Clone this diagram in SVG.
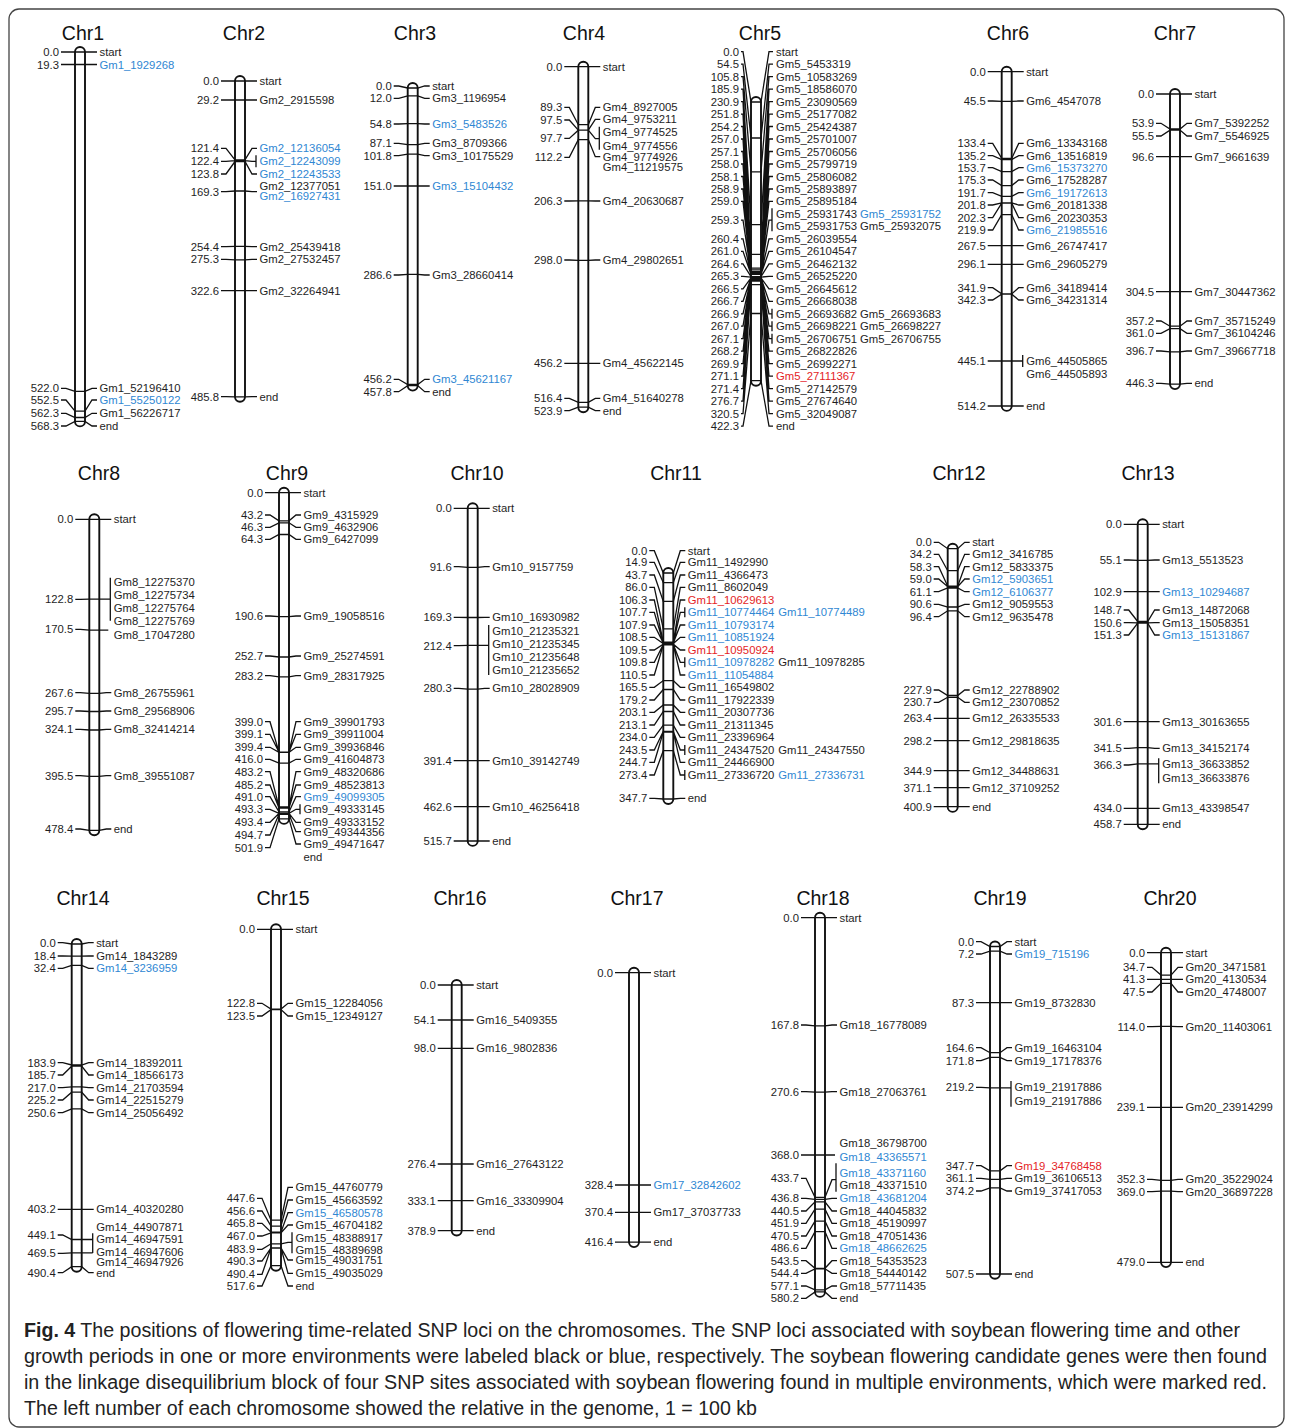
<svg xmlns="http://www.w3.org/2000/svg" width="1292" height="1428" viewBox="0 0 1292 1428">
<style>
.lt text,.rt text{font-family:"Liberation Sans",Arial,sans-serif;font-size:11.3px;fill:#1e1e1e;dominant-baseline:central}
.lt text{text-anchor:end}
.rt text.b{fill:#2f87d3}
.rt text.r{fill:#e41e26}
.ttl{font-family:"Liberation Sans",Arial,sans-serif;font-size:19.5px;text-anchor:middle;fill:#111}
.chr{fill:#fff;stroke:#111;stroke-width:1.9}
.c path{fill:none;stroke:#111;stroke-width:1.3}
.cap{font-family:"Liberation Sans Narrow","Liberation Sans",Arial,sans-serif;font-size:20px;fill:#222}
</style>
<rect width="1292" height="1428" fill="#fff"/>
<rect x="9" y="9" width="1275" height="1418" rx="10" fill="none" stroke="#444" stroke-width="1.3"/>

<g id="chr1"><text class="ttl" x="83" y="40">Chr1</text>
<g transform="translate(80,52)"><rect class="chr" x="-5" y="-5" width="10" height="379.4" rx="5"/>
<g class="lt"><text x="-21" y="0">0.0</text><text x="-21" y="12.5">19.3</text><text x="-21" y="336.3">522.0</text><text x="-21" y="348">552.5</text><text x="-21" y="361.3">562.3</text><text x="-21" y="374">568.3</text></g>
<g class="rt"><text x="19.5" y="0">start</text><text class="b" x="19.5" y="12.5">Gm1_1929268</text><text x="19.5" y="336.3">Gm1_52196410</text><text class="b" x="19.5" y="348">Gm1_55250122</text><text x="19.5" y="361.3">Gm1_56226717</text><text x="19.5" y="374">end</text></g>
</g></g>

<g id="chr2"><text class="ttl" x="244" y="40">Chr2</text>
<g transform="translate(240,81)"><rect class="chr" x="-5" y="-5" width="10" height="325.8" rx="5"/>
<g class="lt"><text x="-21" y="0">0.0</text><text x="-21" y="19">29.2</text><text x="-21" y="67.3">121.4</text><text x="-21" y="80.3">122.4</text><text x="-21" y="93">123.8</text><text x="-21" y="110.7">169.3</text><text x="-21" y="165.7">254.4</text><text x="-21" y="178.3">275.3</text><text x="-21" y="209.7">322.6</text><text x="-21" y="315.7">485.8</text></g>
<g class="rt"><text x="19.5" y="0">start</text><text x="19.5" y="19">Gm2_2915598</text><text class="b" x="19.5" y="67.3">Gm2_12136054</text><text class="b" x="19.5" y="80.3">Gm2_12243099</text><text class="b" x="19.5" y="93">Gm2_12243533</text><text x="19.5" y="104.7">Gm2_12377051</text><text class="b" x="19.5" y="114.7">Gm2_16927431</text><text x="19.5" y="165.7">Gm2_25439418</text><text x="19.5" y="178.3">Gm2_27532457</text><text x="19.5" y="209.7">Gm2_32264941</text><text x="19.5" y="315.7">end</text></g>
</g></g>

<g id="chr3"><text class="ttl" x="415" y="40">Chr3</text>
<g transform="translate(412.7,88)"><rect class="chr" x="-5" y="-5" width="10" height="307.6" rx="5"/>
<g class="lt"><text x="-21" y="-2">0.0</text><text x="-21" y="10.3">12.0</text><text x="-21" y="36">54.8</text><text x="-21" y="55.3">87.1</text><text x="-21" y="67.7">101.8</text><text x="-21" y="98">151.0</text><text x="-21" y="187">286.6</text><text x="-21" y="291.3">456.2</text><text x="-21" y="303.7">457.8</text></g>
<g class="rt"><text x="19.5" y="-2">start</text><text x="19.5" y="10.3">Gm3_1196954</text><text class="b" x="19.5" y="36">Gm3_5483526</text><text x="19.5" y="55.3">Gm3_8709366</text><text x="19.5" y="67.7">Gm3_10175529</text><text class="b" x="19.5" y="98">Gm3_15104432</text><text x="19.5" y="187">Gm3_28660414</text><text class="b" x="19.5" y="291.3">Gm3_45621167</text><text x="19.5" y="303.7">end</text></g>
</g></g>

<g id="chr4"><text class="ttl" x="584" y="40">Chr4</text>
<g transform="translate(583.3,66.7)"><rect class="chr" x="-5" y="-5" width="10" height="350.5" rx="5"/>
<g class="lt"><text x="-21" y="0">0.0</text><text x="-21" y="40.7">89.3</text><text x="-21" y="53.3">97.5</text><text x="-21" y="71.7">97.7</text><text x="-21" y="90.7">112.2</text><text x="-21" y="134.3">206.3</text><text x="-21" y="193.3">298.0</text><text x="-21" y="296.7">456.2</text><text x="-21" y="331.7">516.4</text><text x="-21" y="344">523.9</text></g>
<g class="rt"><text x="19.5" y="0">start</text><text x="19.5" y="40.7">Gm4_8927005</text><text x="19.5" y="52.7">Gm4_9753211</text><text x="19.5" y="65">Gm4_9774525</text><text x="19.5" y="79.3">Gm4_9774556</text><text x="19.5" y="90">Gm4_9774926</text><text x="19.5" y="100.7">Gm4_11219575</text><text x="19.5" y="134.3">Gm4_20630687</text><text x="19.5" y="193.3">Gm4_29802651</text><text x="19.5" y="296.7">Gm4_45622145</text><text x="19.5" y="331.7">Gm4_51640278</text><text x="19.5" y="344">end</text></g>
</g></g>

<g id="chr5"><text class="ttl" x="760" y="40">Chr5</text>
<g transform="translate(756,102)"><rect class="chr" x="-5" y="-5" width="10" height="288.7" rx="5"/>
<g class="lt"><text x="-17" y="-50.3">0.0</text><text x="-17" y="-37.9">54.5</text><text x="-17" y="-25.4">105.8</text><text x="-17" y="-12.9">185.9</text><text x="-17" y="-0.4">230.9</text><text x="-17" y="12.1">251.8</text><text x="-17" y="24.5">254.2</text><text x="-17" y="37">257.0</text><text x="-17" y="49.5">257.1</text><text x="-17" y="62">258.0</text><text x="-17" y="74.5">258.1</text><text x="-17" y="87">258.9</text><text x="-17" y="99.4">259.0</text><text x="-17" y="118.2">259.3</text><text x="-17" y="136.9">260.4</text><text x="-17" y="149.4">261.0</text><text x="-17" y="161.8">264.6</text><text x="-17" y="174.3">265.3</text><text x="-17" y="186.8">266.5</text><text x="-17" y="199.3">266.7</text><text x="-17" y="211.8">266.9</text><text x="-17" y="224.2">267.0</text><text x="-17" y="236.7">267.1</text><text x="-17" y="249.2">268.2</text><text x="-17" y="261.7">269.9</text><text x="-17" y="274.2">271.1</text><text x="-17" y="286.6">271.4</text><text x="-17" y="299.1">276.7</text><text x="-17" y="311.6">320.5</text><text x="-17" y="324.1">422.3</text></g>
<g class="rt"><text x="20" y="-50.3">start</text><text x="20" y="-37.9">Gm5_5453319</text><text x="20" y="-25.4">Gm5_10583269</text><text x="20" y="-12.9">Gm5_18586070</text><text x="20" y="-0.4">Gm5_23090569</text><text x="20" y="12.1">Gm5_25177082</text><text x="20" y="24.5">Gm5_25424387</text><text x="20" y="37">Gm5_25701007</text><text x="20" y="49.5">Gm5_25706056</text><text x="20" y="62">Gm5_25799719</text><text x="20" y="74.5">Gm5_25806082</text><text x="20" y="87">Gm5_25893897</text><text x="20" y="99.4">Gm5_25895184</text><text x="20" y="111.9">Gm5_25931743</text><text class="b" x="104" y="111.9">Gm5_25931752</text><text x="20" y="124.4">Gm5_25931753</text><text x="104" y="124.4">Gm5_25932075</text><text x="20" y="136.9">Gm5_26039554</text><text x="20" y="149.4">Gm5_26104547</text><text x="20" y="161.8">Gm5_26462132</text><text x="20" y="174.3">Gm5_26525220</text><text x="20" y="186.8">Gm5_26645612</text><text x="20" y="199.3">Gm5_26668038</text><text x="20" y="211.8">Gm5_26693682</text><text x="104" y="211.8">Gm5_26693683</text><text x="20" y="224.2">Gm5_26698221</text><text x="104" y="224.2">Gm5_26698227</text><text x="20" y="236.7">Gm5_26706751</text><text x="104" y="236.7">Gm5_26706755</text><text x="20" y="249.2">Gm5_26822826</text><text x="20" y="261.7">Gm5_26992271</text><text class="r" x="20" y="274.2">Gm5_27111367</text><text x="20" y="286.6">Gm5_27142579</text><text x="20" y="299.1">Gm5_27674640</text><text x="20" y="311.6">Gm5_32049087</text><text x="20" y="324.1">end</text></g>
</g></g>

<g id="chr6"><text class="ttl" x="1008" y="40">Chr6</text>
<g transform="translate(1006.7,71.7)"><rect class="chr" x="-5" y="-5" width="10" height="344.2" rx="5"/>
<g class="lt"><text x="-21" y="0">0.0</text><text x="-21" y="29.3">45.5</text><text x="-21" y="71.7">133.4</text><text x="-21" y="84">135.2</text><text x="-21" y="96">153.7</text><text x="-21" y="108.3">175.3</text><text x="-21" y="121">191.7</text><text x="-21" y="133.3">201.8</text><text x="-21" y="146">202.3</text><text x="-21" y="158.3">219.9</text><text x="-21" y="174">267.5</text><text x="-21" y="192.7">296.1</text><text x="-21" y="216">341.9</text><text x="-21" y="228.3">342.3</text><text x="-21" y="289.3">445.1</text><text x="-21" y="334.3">514.2</text></g>
<g class="rt"><text x="19.5" y="0">start</text><text x="19.5" y="29.3">Gm6_4547078</text><text x="19.5" y="71.7">Gm6_13343168</text><text x="19.5" y="84">Gm6_13516819</text><text class="b" x="19.5" y="96">Gm6_15373270</text><text x="19.5" y="108.3">Gm6_17528287</text><text class="b" x="19.5" y="121">Gm6_19172613</text><text x="19.5" y="133.3">Gm6_20181338</text><text x="19.5" y="146">Gm6_20230353</text><text class="b" x="19.5" y="158.3">Gm6_21985516</text><text x="19.5" y="174">Gm6_26747417</text><text x="19.5" y="192.7">Gm6_29605279</text><text x="19.5" y="216">Gm6_34189414</text><text x="19.5" y="228.3">Gm6_34231314</text><text x="19.5" y="289.3">Gm6_44505865</text><text x="19.5" y="302.3">Gm6_44505893</text><text x="19.5" y="334.3">end</text></g>
</g></g>

<g id="chr7"><text class="ttl" x="1175" y="40">Chr7</text>
<g transform="translate(1175,94)"><rect class="chr" x="-5" y="-5" width="10" height="300.1" rx="5"/>
<g class="lt"><text x="-21" y="0">0.0</text><text x="-21" y="29.3">53.9</text><text x="-21" y="42">55.5</text><text x="-21" y="62.7">96.6</text><text x="-21" y="197.7">304.5</text><text x="-21" y="227">357.2</text><text x="-21" y="239.3">361.0</text><text x="-21" y="257">396.7</text><text x="-21" y="289.3">446.3</text></g>
<g class="rt"><text x="19.5" y="0">start</text><text x="19.5" y="29.3">Gm7_5392252</text><text x="19.5" y="42">Gm7_5546925</text><text x="19.5" y="62.7">Gm7_9661639</text><text x="19.5" y="197.7">Gm7_30447362</text><text x="19.5" y="227">Gm7_35715249</text><text x="19.5" y="239.3">Gm7_36104246</text><text x="19.5" y="257">Gm7_39667718</text><text x="19.5" y="289.3">end</text></g>
</g></g>

<g id="chr8"><text class="ttl" x="99" y="480">Chr8</text>
<g transform="translate(94.3,519.3)"><rect class="chr" x="-5" y="-5" width="10" height="321" rx="5"/>
<g class="lt"><text x="-21" y="0">0.0</text><text x="-21" y="80">122.8</text><text x="-21" y="110">170.5</text><text x="-21" y="173.3">267.6</text><text x="-21" y="191.7">295.7</text><text x="-21" y="210">324.1</text><text x="-21" y="256.3">395.5</text><text x="-21" y="309.7">478.4</text></g>
<g class="rt"><text x="19.5" y="0">start</text><text x="19.5" y="63">Gm8_12275370</text><text x="19.5" y="75.7">Gm8_12275734</text><text x="19.5" y="89">Gm8_12275764</text><text x="19.5" y="101.4">Gm8_12275769</text><text x="19.5" y="115.7">Gm8_17047280</text><text x="19.5" y="173.3">Gm8_26755961</text><text x="19.5" y="191.7">Gm8_29568906</text><text x="19.5" y="210">Gm8_32414214</text><text x="19.5" y="256.3">Gm8_39551087</text><text x="19.5" y="309.7">end</text></g>
</g></g>

<g id="chr9"><text class="ttl" x="287" y="480">Chr9</text>
<g transform="translate(284,492.7)"><rect class="chr" x="-5" y="-5" width="10" height="336.2" rx="5"/>
<g class="lt"><text x="-21" y="0">0.0</text><text x="-21" y="22.3">43.2</text><text x="-21" y="34.6">46.3</text><text x="-21" y="46.6">64.3</text><text x="-21" y="123.3">190.6</text><text x="-21" y="163.3">252.7</text><text x="-21" y="183">283.2</text><text x="-21" y="229">399.0</text><text x="-21" y="241.6">399.1</text><text x="-21" y="254.6">399.4</text><text x="-21" y="266.6">416.0</text><text x="-21" y="279">483.2</text><text x="-21" y="292.3">485.2</text><text x="-21" y="304">491.0</text><text x="-21" y="316.6">493.3</text><text x="-21" y="329.6">493.4</text><text x="-21" y="342.3">494.7</text><text x="-21" y="355">501.9</text></g>
<g class="rt"><text x="19.5" y="0">start</text><text x="19.5" y="22.3">Gm9_4315929</text><text x="19.5" y="34.6">Gm9_4632906</text><text x="19.5" y="46.6">Gm9_6427099</text><text x="19.5" y="123.3">Gm9_19058516</text><text x="19.5" y="163.3">Gm9_25274591</text><text x="19.5" y="183">Gm9_28317925</text><text x="19.5" y="229">Gm9_39901793</text><text x="19.5" y="241.6">Gm9_39911004</text><text x="19.5" y="254.6">Gm9_39936846</text><text x="19.5" y="266.6">Gm9_41604873</text><text x="19.5" y="279">Gm9_48320686</text><text x="19.5" y="292.3">Gm9_48523813</text><text class="b" x="19.5" y="304">Gm9_49099305</text><text x="19.5" y="316.6">Gm9_49333145</text><text x="19.5" y="329.6">Gm9_49333152</text><text x="19.5" y="339">Gm9_49344356</text><text x="19.5" y="351.3">Gm9_49471647</text><text x="19.5" y="364">end</text></g>
</g></g>

<g id="chr10"><text class="ttl" x="477" y="480">Chr10</text>
<g transform="translate(472.7,508.3)"><rect class="chr" x="-5" y="-5" width="10" height="342.6" rx="5"/>
<g class="lt"><text x="-21" y="0">0.0</text><text x="-21" y="58.4">91.6</text><text x="-21" y="109">169.3</text><text x="-21" y="137.4">212.4</text><text x="-21" y="180">280.3</text><text x="-21" y="252.4">391.4</text><text x="-21" y="298.4">462.6</text><text x="-21" y="332.7">515.7</text></g>
<g class="rt"><text x="19.5" y="0">start</text><text x="19.5" y="58.4">Gm10_9157759</text><text x="19.5" y="109">Gm10_16930982</text><text x="19.5" y="122.4">Gm10_21235321</text><text x="19.5" y="136">Gm10_21235345</text><text x="19.5" y="148.4">Gm10_21235648</text><text x="19.5" y="161.7">Gm10_21235652</text><text x="19.5" y="180">Gm10_28028909</text><text x="19.5" y="252.4">Gm10_39142749</text><text x="19.5" y="298.4">Gm10_46256418</text><text x="19.5" y="332.7">end</text></g>
</g></g>

<g id="chr11"><text class="ttl" x="676" y="480">Chr11</text>
<g transform="translate(668.3,573)"><rect class="chr" x="-5" y="-5" width="10" height="236" rx="5"/>
<g class="lt"><text x="-21" y="-22.3">0.0</text><text x="-21" y="-10.7">14.9</text><text x="-21" y="2">43.7</text><text x="-21" y="14.3">86.0</text><text x="-21" y="27">106.3</text><text x="-21" y="39.3">107.7</text><text x="-21" y="52">107.9</text><text x="-21" y="64.3">108.5</text><text x="-21" y="77">109.5</text><text x="-21" y="89.3">109.8</text><text x="-21" y="102">110.5</text><text x="-21" y="114.3">165.5</text><text x="-21" y="127">179.2</text><text x="-21" y="139.3">203.1</text><text x="-21" y="152">213.1</text><text x="-21" y="164.3">234.0</text><text x="-21" y="177">243.5</text><text x="-21" y="189.3">244.7</text><text x="-21" y="202">273.4</text><text x="-21" y="225.3">347.7</text></g>
<g class="rt"><text x="19.5" y="-22.3">start</text><text x="19.5" y="-10.7">Gm11_1492990</text><text x="19.5" y="2">Gm11_4366473</text><text x="19.5" y="14.3">Gm11_8602049</text><text class="r" x="19.5" y="27">Gm11_10629613</text><text class="b" x="19.5" y="39.3">Gm11_10774464</text><text class="b" x="110" y="39.3">Gm11_10774489</text><text class="b" x="19.5" y="52">Gm11_10793174</text><text class="b" x="19.5" y="64.3">Gm11_10851924</text><text class="r" x="19.5" y="77">Gm11_10950924</text><text class="b" x="19.5" y="89.3">Gm11_10978282</text><text x="110" y="89.3">Gm11_10978285</text><text class="b" x="19.5" y="102">Gm11_11054884</text><text x="19.5" y="114.3">Gm11_16549802</text><text x="19.5" y="127">Gm11_17922339</text><text x="19.5" y="139.3">Gm11_20307736</text><text x="19.5" y="152">Gm11_21311345</text><text x="19.5" y="164.3">Gm11_23396964</text><text x="19.5" y="177">Gm11_24347520</text><text x="110" y="177">Gm11_24347550</text><text x="19.5" y="189.3">Gm11_24466900</text><text x="19.5" y="202">Gm11_27336720</text><text class="b" x="110" y="202">Gm11_27336731</text><text x="19.5" y="225.3">end</text></g>
</g></g>

<g id="chr12"><text class="ttl" x="959" y="480">Chr12</text>
<g transform="translate(952.7,548.7)"><rect class="chr" x="-5" y="-5" width="10" height="268.2" rx="5"/>
<g class="lt"><text x="-21" y="-6.4">0.0</text><text x="-21" y="5.6">34.2</text><text x="-21" y="18">58.3</text><text x="-21" y="30.3">59.0</text><text x="-21" y="43">61.1</text><text x="-21" y="55.6">90.6</text><text x="-21" y="68">96.4</text><text x="-21" y="141.3">227.9</text><text x="-21" y="153.6">230.7</text><text x="-21" y="169.6">263.4</text><text x="-21" y="192">298.2</text><text x="-21" y="222">344.9</text><text x="-21" y="239">371.1</text><text x="-21" y="258">400.9</text></g>
<g class="rt"><text x="19.5" y="-6.4">start</text><text x="19.5" y="5.6">Gm12_3416785</text><text x="19.5" y="18">Gm12_5833375</text><text class="b" x="19.5" y="30.3">Gm12_5903651</text><text class="b" x="19.5" y="43">Gm12_6106377</text><text x="19.5" y="55.6">Gm12_9059553</text><text x="19.5" y="68">Gm12_9635478</text><text x="19.5" y="141.3">Gm12_22788902</text><text x="19.5" y="153.6">Gm12_23070852</text><text x="19.5" y="169.6">Gm12_26335533</text><text x="19.5" y="192">Gm12_29818635</text><text x="19.5" y="222">Gm12_34488631</text><text x="19.5" y="239">Gm12_37109252</text><text x="19.5" y="258">end</text></g>
</g></g>

<g id="chr13"><text class="ttl" x="1148" y="480">Chr13</text>
<g transform="translate(1142.7,524.3)"><rect class="chr" x="-5" y="-5" width="10" height="310" rx="5"/>
<g class="lt"><text x="-21" y="0">0.0</text><text x="-21" y="35.7">55.1</text><text x="-21" y="67.4">102.9</text><text x="-21" y="85.7">148.7</text><text x="-21" y="98.4">150.6</text><text x="-21" y="110.7">151.3</text><text x="-21" y="197.4">301.6</text><text x="-21" y="224">341.5</text><text x="-21" y="240.7">366.3</text><text x="-21" y="284">434.0</text><text x="-21" y="300">458.7</text></g>
<g class="rt"><text x="19.5" y="0">start</text><text x="19.5" y="35.7">Gm13_5513523</text><text class="b" x="19.5" y="67.4">Gm13_10294687</text><text x="19.5" y="85.7">Gm13_14872068</text><text x="19.5" y="98.4">Gm13_15058351</text><text class="b" x="19.5" y="110.7">Gm13_15131867</text><text x="19.5" y="197.4">Gm13_30163655</text><text x="19.5" y="224">Gm13_34152174</text><text x="19.5" y="239.7">Gm13_36633852</text><text x="19.5" y="253.4">Gm13_36633876</text><text x="19.5" y="284">Gm13_43398547</text><text x="19.5" y="300">end</text></g>
</g></g>

<g id="chr14"><text class="ttl" x="83" y="905">Chr14</text>
<g transform="translate(76.7,944)"><rect class="chr" x="-5" y="-5" width="10" height="332.7" rx="5"/>
<g class="lt"><text x="-21" y="-1.3">0.0</text><text x="-21" y="12">18.4</text><text x="-21" y="24.3">32.4</text><text x="-21" y="118.7">183.9</text><text x="-21" y="131">185.7</text><text x="-21" y="143.7">217.0</text><text x="-21" y="156">225.2</text><text x="-21" y="168.7">250.6</text><text x="-21" y="265.3">403.2</text><text x="-21" y="291">449.1</text><text x="-21" y="309.3">469.5</text><text x="-21" y="328.7">490.4</text></g>
<g class="rt"><text x="19.5" y="-1.3">start</text><text x="19.5" y="12">Gm14_1843289</text><text class="b" x="19.5" y="24.3">Gm14_3236959</text><text x="19.5" y="118.7">Gm14_18392011</text><text x="19.5" y="131">Gm14_18566173</text><text x="19.5" y="143.7">Gm14_21703594</text><text x="19.5" y="156">Gm14_22515279</text><text x="19.5" y="168.7">Gm14_25056492</text><text x="19.5" y="265.3">Gm14_40320280</text><text x="19.5" y="282.7">Gm14_44907871</text><text x="19.5" y="295.3">Gm14_46947591</text><text x="19.5" y="307.7">Gm14_46947606</text><text x="19.5" y="317.7">Gm14_46947926</text><text x="19.5" y="328.7">end</text></g>
</g></g>

<g id="chr15"><text class="ttl" x="283" y="905">Chr15</text>
<g transform="translate(276,929.3)"><rect class="chr" x="-5" y="-5" width="10" height="346.4" rx="5"/>
<g class="lt"><text x="-21" y="0">0.0</text><text x="-21" y="74">122.8</text><text x="-21" y="86.7">123.5</text><text x="-21" y="269">447.6</text><text x="-21" y="281.7">456.6</text><text x="-21" y="294">465.8</text><text x="-21" y="306.7">467.0</text><text x="-21" y="320">483.9</text><text x="-21" y="331.7">490.3</text><text x="-21" y="345">490.4</text><text x="-21" y="356.7">517.6</text></g>
<g class="rt"><text x="19.5" y="0">start</text><text x="19.5" y="74">Gm15_12284056</text><text x="19.5" y="86.7">Gm15_12349127</text><text x="19.5" y="258">Gm15_44760779</text><text x="19.5" y="270.7">Gm15_45663592</text><text class="b" x="19.5" y="283.4">Gm15_46580578</text><text x="19.5" y="295.7">Gm15_46704182</text><text x="19.5" y="309">Gm15_48388917</text><text x="19.5" y="320.7">Gm15_48389698</text><text x="19.5" y="330.7">Gm15_49031751</text><text x="19.5" y="344">Gm15_49035029</text><text x="19.5" y="356.7">end</text></g>
</g></g>

<g id="chr16"><text class="ttl" x="460" y="905">Chr16</text>
<g transform="translate(456.7,985)"><rect class="chr" x="-5" y="-5" width="10" height="255.5" rx="5"/>
<g class="lt"><text x="-21" y="0">0.0</text><text x="-21" y="35">54.1</text><text x="-21" y="63.3">98.0</text><text x="-21" y="179">276.4</text><text x="-21" y="215.7">333.1</text><text x="-21" y="245.7">378.9</text></g>
<g class="rt"><text x="19.5" y="0">start</text><text x="19.5" y="35">Gm16_5409355</text><text x="19.5" y="63.3">Gm16_9802836</text><text x="19.5" y="179">Gm16_27643122</text><text x="19.5" y="215.7">Gm16_33309904</text><text x="19.5" y="245.7">end</text></g>
</g></g>

<g id="chr17"><text class="ttl" x="637" y="905">Chr17</text>
<g transform="translate(634,972.7)"><rect class="chr" x="-5" y="-5" width="10" height="279.4" rx="5"/>
<g class="lt"><text x="-21" y="0">0.0</text><text x="-21" y="212.3">328.4</text><text x="-21" y="239.6">370.4</text><text x="-21" y="269.5">416.4</text></g>
<g class="rt"><text x="19.5" y="0">start</text><text class="b" x="19.5" y="212.3">Gm17_32842602</text><text x="19.5" y="239.6">Gm17_37037733</text><text x="19.5" y="269.5">end</text></g>
</g></g>

<g id="chr18"><text class="ttl" x="823" y="905">Chr18</text>
<g transform="translate(820,917.7)"><rect class="chr" x="-5" y="-5" width="10" height="384.2" rx="5"/>
<g class="lt"><text x="-21" y="0">0.0</text><text x="-21" y="107.3">167.8</text><text x="-21" y="174">270.6</text><text x="-21" y="237.3">368.0</text><text x="-21" y="260.6">433.7</text><text x="-21" y="280.6">436.8</text><text x="-21" y="293.3">440.5</text><text x="-21" y="305.6">451.9</text><text x="-21" y="318.3">470.5</text><text x="-21" y="330.6">486.6</text><text x="-21" y="343">543.5</text><text x="-21" y="355.6">544.4</text><text x="-21" y="368.3">577.1</text><text x="-21" y="380.6">580.2</text></g>
<g class="rt"><text x="19.5" y="0">start</text><text x="19.5" y="107.3">Gm18_16778089</text><text x="19.5" y="174">Gm18_27063761</text><text x="19.5" y="225.6">Gm18_36798700</text><text class="b" x="19.5" y="239.6">Gm18_43365571</text><text class="b" x="19.5" y="255.6">Gm18_43371160</text><text x="19.5" y="267.3">Gm18_43371510</text><text class="b" x="19.5" y="280.6">Gm18_43681204</text><text x="19.5" y="293.3">Gm18_44045832</text><text x="19.5" y="305.6">Gm18_45190997</text><text x="19.5" y="318.3">Gm18_47051436</text><text class="b" x="19.5" y="330.6">Gm18_48662625</text><text x="19.5" y="343">Gm18_54353523</text><text x="19.5" y="355.6">Gm18_54440142</text><text x="19.5" y="368.3">Gm18_57711435</text><text x="19.5" y="380.6">end</text></g>
</g></g>

<g id="chr19"><text class="ttl" x="1000" y="905">Chr19</text>
<g transform="translate(995,946.5)"><rect class="chr" x="-5" y="-5" width="10" height="337.3" rx="5"/>
<g class="lt"><text x="-21" y="-4.8">0.0</text><text x="-21" y="7.5">7.2</text><text x="-21" y="56.2">87.3</text><text x="-21" y="101.2">164.6</text><text x="-21" y="114.2">171.8</text><text x="-21" y="140.8">219.2</text><text x="-21" y="219.2">347.7</text><text x="-21" y="231.8">361.1</text><text x="-21" y="244.5">374.2</text><text x="-21" y="327.5">507.5</text></g>
<g class="rt"><text x="19.5" y="-4.8">start</text><text class="b" x="19.5" y="7.5">Gm19_715196</text><text x="19.5" y="56.2">Gm19_8732830</text><text x="19.5" y="101.2">Gm19_16463104</text><text x="19.5" y="114.2">Gm19_17178376</text><text x="19.5" y="140.8">Gm19_21917886</text><text x="19.5" y="154.2">Gm19_21917886</text><text class="r" x="19.5" y="219.2">Gm19_34768458</text><text x="19.5" y="231.8">Gm19_36106513</text><text x="19.5" y="244.5">Gm19_37417053</text><text x="19.5" y="327.5">end</text></g>
</g></g>

<g id="chr20"><text class="ttl" x="1170" y="905">Chr20</text>
<g transform="translate(1166,952.7)"><rect class="chr" x="-5" y="-5" width="10" height="319.4" rx="5"/>
<g class="lt"><text x="-21" y="0">0.0</text><text x="-21" y="14.6">34.7</text><text x="-21" y="26.6">41.3</text><text x="-21" y="39.3">47.5</text><text x="-21" y="74">114.0</text><text x="-21" y="154.6">239.1</text><text x="-21" y="226.6">352.3</text><text x="-21" y="239">369.0</text><text x="-21" y="309.6">479.0</text></g>
<g class="rt"><text x="19.5" y="0">start</text><text x="19.5" y="14.6">Gm20_3471581</text><text x="19.5" y="26.6">Gm20_4130534</text><text x="19.5" y="39.3">Gm20_4748007</text><text x="19.5" y="74">Gm20_11403061</text><text x="19.5" y="154.6">Gm20_23914299</text><text x="19.5" y="226.6">Gm20_35229024</text><text x="19.5" y="239">Gm20_36897228</text><text x="19.5" y="309.6">end</text></g>
</g></g>

<g id="connectors" class="c">
<path transform="translate(80,52)" d="M-19 0H17M-19 12.5H17M-19 336.3H-14L-5 339.3H5L12 336.3H17M-19 348H-14L-5 359.1H5L12 348H17M-19 361.3H-14L-5 365.5H5L12 361.3H17M-19 374H-14L-5 369.4H5L12 374H17"/>
<path transform="translate(240,81)" d="M-19 0H17M-19 19H17M-19 67.3H-14L-5 78.9H5L12 67.3H17M-19 80.3H-14L-5 79.6H5L12 80.3H16M16 74.3V86.3M-19 93H-14L-5 80.5H5L12 93H17M-19 110.7H-14L-5 110H5L12 110.7H17M-19 165.7H-14L-5 165.4H5L12 165.7H17M-19 178.3H-14L-5 178.9H5L12 178.3H17M-19 209.7H17M-19 315.7H-14L-5 315.8H5L12 315.7H17"/>
<path transform="translate(412.7,88)" d="M-19 -2H-14L-5 0H5L12 -2H17M-19 10.3H-14L-5 7.8H5L12 10.3H17M-19 36H-14L-5 35.6H5L12 36H17M-19 55.3H-14L-5 56.6H5L12 55.3H17M-19 67.7H-14L-5 66.2H5L12 67.7H17M-19 98H17M-19 187H-14L-5 186.3H5L12 187H17M-19 291.3H-14L-5 296.5H5L12 291.3H17M-19 303.7H-14L-5 297.6H5L12 303.7H17"/>
<path transform="translate(583.3,66.7)" d="M-19 0H17M-19 40.7H-14L-5 58H5L12 40.7H17M-19 53.3H-14L-5 63.4H5L12 52.7H17M-19 71.7H-14L-5 63.5H5L12 72H16M16 60V83M-19 90.7H-14L-5 72.9H5L12 90H17M-19 134.3H-14L-5 134.1H5L12 134.3H17M-19 193.3H-14L-5 193.7H5L12 193.3H17M-19 296.7H17M-19 331.7H-14L-5 335.7H5L12 331.7H17M-19 344H-14L-5 340.5H5L12 344H17"/>
<path transform="translate(756,102)" d="M-15 -50.3H-13L-5 0H5L13 -50.3H17M-15 -37.9H-13L-5 36H5L13 -37.9H17M-15 -25.4H-13L-5 69.8H5L13 -25.4H17M-15 -12.9H-13L-5 122.7H5L13 -12.9H17M-15 -0.4H-13L-5 152.4H5L13 -0.4H17M-15 12.1H-13L-5 166.2H5L13 12.1H17M-15 24.5H-13L-5 167.8H5L13 24.5H17M-15 37H-13L-5 169.6H5L13 37H17M-15 49.5H-13L-5 169.7H5L13 49.5H17M-15 62H-13L-5 170.3H5L13 62H17M-15 74.5H-13L-5 170.3H5L13 74.5H17M-15 87H-13L-5 170.9H5L13 87H17M-15 99.4H-13L-5 170.9H5L13 99.4H17M-15 118.2H-13L-5 171.1H5L13 118.2H16M16 106.3V129.3M-15 136.9H-13L-5 171.9H5L13 136.9H17M-15 149.4H-13L-5 172.3H5L13 149.4H17M-15 161.8H-13L-5 174.6H5L13 161.8H17M-15 174.3H-13L-5 175.1H5L13 174.3H17M-15 186.8H-13L-5 175.9H5L13 186.8H17M-15 199.3H-13L-5 176H5L13 199.3H17M-15 211.8H-13L-5 176.2H5L13 211.8H16M16 206.8V216.8M-15 224.2H-13L-5 176.2H5L13 224.2H16M16 219.2V229.2M-15 236.7H-13L-5 176.3H5L13 236.7H16M16 231.7V241.7M-15 249.2H-13L-5 177H5L13 249.2H17M-15 261.7H-13L-5 178.1H5L13 261.7H17M-15 274.2H-13L-5 178.9H5L13 274.2H17M-15 286.6H-13L-5 179.1H5L13 286.6H17M-15 299.1H-13L-5 182.6H5L13 299.1H17M-15 311.6H-13L-5 211.5H5L13 311.6H17M-15 324.1H-13L-5 278.7H5L13 324.1H17"/>
<path transform="translate(1006.7,71.7)" d="M-19 0H17M-19 29.3H-14L-5 29.6H5L12 29.3H17M-19 71.7H-14L-5 86.7H5L12 71.7H17M-19 84H-14L-5 87.9H5L12 84H17M-19 96H-14L-5 99.9H5L12 96H17M-19 108.3H-14L-5 113.9H5L12 108.3H17M-19 121H-14L-5 124.6H5L12 121H17M-19 133.3H-14L-5 131.2H5L12 133.3H17M-19 146H-14L-5 131.5H5L12 146H17M-19 158.3H-14L-5 142.9H5L12 158.3H17M-19 174H17M-19 192.7H17M-19 216H-14L-5 222.2H5L12 216H17M-19 228.3H-14L-5 222.5H5L12 228.3H17M-19 289.3H16M16 283.3V295.3M-19 334.3H17"/>
<path transform="translate(1175,94)" d="M-19 0H17M-19 29.3H-14L-5 35H5L12 29.3H17M-19 42H-14L-5 36.1H5L12 42H17M-19 62.7H17M-19 197.7H17M-19 227H-14L-5 232.2H5L12 227H17M-19 239.3H-14L-5 234.7H5L12 239.3H17M-19 257H-14L-5 257.9H5L12 257H17M-19 289.3H-14L-5 290.1H5L12 289.3H17"/>
<path transform="translate(94.3,519.3)" d="M-19 0H17M-19 80H-14L-5 79.8H16M16 58.4V101.4M-19 110H-14L-5 110.8H14M-19 173.3H-14L-5 174H5L12 173.3H17M-19 191.7H-14L-5 192.2H5L12 191.7H17M-19 210H-14L-5 210.7H5L12 210H17M-19 256.3H-14L-5 257.1H5L12 256.3H17M-19 309.7H-14L-5 311H5L12 309.7H17"/>
<path transform="translate(284,492.7)" d="M-19 0H17M-19 22.3H-14L-5 28.1H5L12 22.3H17M-19 34.6H-14L-5 30.1H5L12 34.6H17M-19 46.6H-14L-5 41.8H5L12 46.6H17M-19 123.3H-14L-5 123.9H5L12 123.3H17M-19 163.3H-14L-5 164.3H5L12 163.3H17M-19 183H-14L-5 184.1H5L12 183H17M-19 229H-14L-5 259.4H5L12 229H17M-19 241.6H-14L-5 259.4H5L12 241.6H17M-19 254.6H-14L-5 259.6H5L12 254.6H17M-19 266.6H-14L-5 270.4H5L12 266.6H17M-19 279H-14L-5 314.1H5L12 279H17M-19 292.3H-14L-5 315.4H5L12 292.3H17M-19 304H-14L-5 319.2H5L12 304H17M-19 316.6H-14L-5 320.6H5L12 316.6H16M16 311.6V321.6M-19 329.6H-14L-5 320.7H5L12 329.6H17M-19 342.3H-14L-5 321.6H5L12 339H17M-19 355H-14L-5 326.2H5L12 351.3H17"/>
<path transform="translate(472.7,508.3)" d="M-19 0H17M-19 58.4H-14L-5 59.1H5L12 58.4H17M-19 109H-14L-5 109.2H5L12 109H17M-19 137.4H-14L-5 137H16M16 116.7V166.7M-19 180H-14L-5 180.8H5L12 180H17M-19 252.4H17M-19 298.4H17M-19 332.7H17"/>
<path transform="translate(668.3,573)" d="M-19 -22.3H-14L-5 0H5L12 -22.3H17M-19 -10.7H-14L-5 9.7H5L12 -10.7H17M-19 2H-14L-5 28.4H5L12 2H17M-19 14.3H-14L-5 55.9H5L12 14.3H17M-19 27H-14L-5 69.1H5L12 27H17M-19 39.3H-14L-5 70H5L12 39.3H16.5M16.5 34.3V44.3M-19 52H-14L-5 70.1H5L12 52H17M-19 64.3H-14L-5 70.5H5L12 64.3H17M-19 77H-14L-5 71.2H5L12 77H17M-19 89.3H-14L-5 71.4H5L12 89.3H16.5M16.5 84.3V94.3M-19 102H-14L-5 71.8H5L12 102H17M-19 114.3H-14L-5 107.6H5L12 114.3H17M-19 127H-14L-5 116.5H5L12 127H17M-19 139.3H-14L-5 132H5L12 139.3H17M-19 152H-14L-5 138.5H5L12 152H17M-19 164.3H-14L-5 152.1H5L12 164.3H17M-19 177H-14L-5 158.3H5L12 177H16.5M16.5 172V182M-19 189.3H-14L-5 159.1H5L12 189.3H17M-19 202H-14L-5 177.7H5L12 202H16.5M16.5 197V207M-19 225.3H-14L-5 226H5L12 225.3H17"/>
<path transform="translate(952.7,548.7)" d="M-19 -6.4H-14L-5 0H5L12 -6.4H17M-19 5.6H-14L-5 22H5L12 5.6H17M-19 18H-14L-5 37.5H5L12 18H17M-19 30.3H-14L-5 38H5L12 30.3H17M-19 43H-14L-5 39.3H5L12 43H17M-19 55.6H-14L-5 58.3H5L12 55.6H17M-19 68H-14L-5 62.1H5L12 68H17M-19 141.3H-14L-5 146.8H5L12 141.3H17M-19 153.6H-14L-5 148.6H5L12 153.6H17M-19 169.6H17M-19 192H17M-19 222H17M-19 239H17M-19 258H17"/>
<path transform="translate(1142.7,524.3)" d="M-19 0H17M-19 35.7H-14L-5 36H5L12 35.7H17M-19 67.4H17M-19 85.7H-14L-5 97.2H5L12 85.7H17M-19 98.4H-14L-5 98.5H5L12 98.4H17M-19 110.7H-14L-5 98.9H5L12 110.7H17M-19 197.4H17M-19 224H-14L-5 223.3H5L12 224H17M-19 240.7H-14L-5 239.6H16M16 234V259M-19 284H17M-19 300H17"/>
<path transform="translate(76.7,944)" d="M-19 -1.3H-14L-5 0H5L12 -1.3H17M-19 12H-14L-5 12.1H5L12 12H17M-19 24.3H-14L-5 21.3H5L12 24.3H17M-19 118.7H-14L-5 121H5L12 118.7H17M-19 131H-14L-5 122.2H5L12 131H17M-19 143.7H-14L-5 142.8H5L12 143.7H17M-19 156H-14L-5 148.2H5L12 156H17M-19 168.7H-14L-5 164.9H5L12 168.7H17M-19 265.3H17M-19 291H-14L-5 295.5H16M-19 309.3H-14L-5 308.9H16M16 289.3V309M-19 328.7H-14L-5 322.7H5L12 328.7H17"/>
<path transform="translate(276,929.3)" d="M-19 0H17M-19 74H-14L-5 79.8H5L12 74H17M-19 86.7H-14L-5 80.3H5L12 86.7H17M-19 269H-14L-5 290.9H5L12 258H17M-19 281.7H-14L-5 296.8H5L12 270.7H17M-19 294H-14L-5 302.8H5L12 283.4H17M-19 306.7H-14L-5 303.6H5L12 295.7H17M-19 320H-14L-5 314.5H5L12 313H16M16 303V324M-19 331.7H-14L-5 318.7H5L12 330.7H17M-19 345H-14L-5 318.8H5L12 344H17M-19 356.7H-14L-5 336.4H5L12 356.7H17"/>
<path transform="translate(456.7,985)" d="M-19 0H17M-19 35H17M-19 63.3H17M-19 179H17M-19 215.7H17M-19 245.7H17"/>
<path transform="translate(634,972.7)" d="M-19 0H17M-19 212.3H17M-19 239.6H17M-19 269.5H17"/>
<path transform="translate(820,917.7)" d="M-19 0H17M-19 107.3H-14L-5 108.2H5L12 107.3H17M-19 174H-14L-5 174.5H5L12 174H17M-19 237.3H15M-19 260.6H-14L-5 279.7H5L12 262H16M16 245.6V274M-19 280.6H-14L-5 281.7H5L12 280.6H17M-19 293.3H-14L-5 284.1H5L12 293.3H17M-19 305.6H-14L-5 291.5H5L12 305.6H17M-19 318.3H-14L-5 303.5H5L12 318.3H17M-19 330.6H-14L-5 313.9H5L12 330.6H17M-19 343H-14L-5 350.6H5L12 343H17M-19 355.6H-14L-5 351.1H5L12 355.6H17M-19 368.3H-14L-5 372.2H5L12 368.3H17M-19 380.6H-14L-5 374.2H5L12 380.6H17"/>
<path transform="translate(995,946.5)" d="M-19 -4.8H-14L-5 0H5L12 -4.8H17M-19 7.5H-14L-5 4.6H5L12 7.5H17M-19 56.2H17M-19 101.2H-14L-5 106.2H5L12 101.2H17M-19 114.2H-14L-5 110.8H5L12 114.2H17M-19 140.8H-14L-5 141.4H16M16 134.5V160.2M-19 219.2H-14L-5 224.3H5L12 219.2H17M-19 231.8H-14L-5 232.9H5L12 231.8H17M-19 244.5H-14L-5 241.4H5L12 244.5H17M-19 327.5H17"/>
<path transform="translate(1166,952.7)" d="M-19 0H17M-19 14.6H-14L-5 22.4H5L12 14.6H17M-19 26.6H-14L-5 26.7H5L12 26.6H17M-19 39.3H-14L-5 30.7H5L12 39.3H17M-19 74H-14L-5 73.6H5L12 74H17M-19 154.6H17M-19 226.6H-14L-5 227.6H5L12 226.6H17M-19 239H-14L-5 238.4H5L12 239H17M-19 309.6H17"/>
</g>

<g id="caption">
<text class="cap" x="24" y="1337" textLength="1216" lengthAdjust="spacingAndGlyphs"><tspan font-weight="bold">Fig. 4</tspan> The positions of flowering time-related SNP loci on the chromosomes. The SNP loci associated with soybean flowering time and other</text>
<text class="cap" x="24" y="1363" textLength="1243" lengthAdjust="spacingAndGlyphs">growth periods in one or more environments were labeled black or blue, respectively. The soybean flowering candidate genes were then found</text>
<text class="cap" x="24" y="1389" textLength="1243" lengthAdjust="spacingAndGlyphs">in the linkage disequilibrium block of four SNP sites associated with soybean flowering found in multiple environments, which were marked red.</text>
<text class="cap" x="24" y="1415" textLength="733" lengthAdjust="spacingAndGlyphs">The left number of each chromosome showed the relative in the genome, 1 = 100 kb</text>
</g>
</svg>
